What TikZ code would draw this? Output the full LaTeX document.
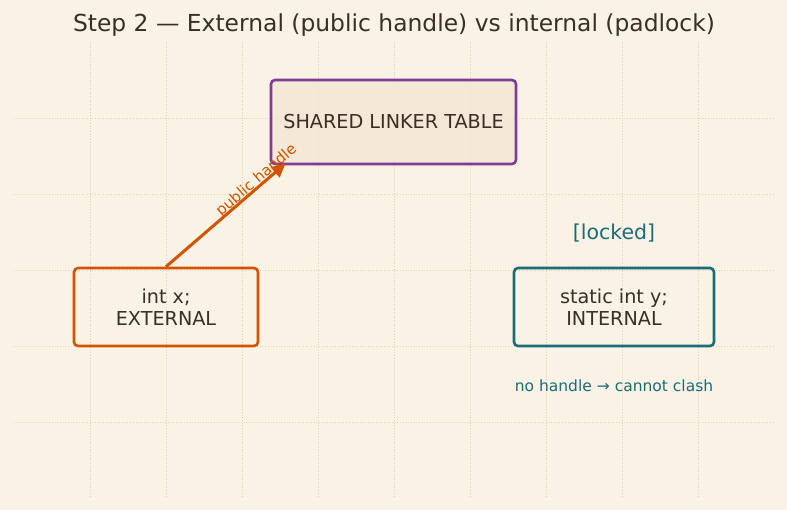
\documentclass[tikz,border=0pt]{standalone}
\usepackage{fontspec}
\setmainfont{DejaVu Sans}
\usetikzlibrary{arrows.meta,calc}
\definecolor{bg}{HTML}{FAF3E5}
\definecolor{gridc}{HTML}{DDD2BE}
\definecolor{ink}{HTML}{3A2E27}
\definecolor{orangec}{HTML}{D35400}
\definecolor{purplec}{HTML}{7D3C98}
\definecolor{tealc}{HTML}{1B6B78}
\definecolor{sharedfill}{HTML}{F3E6D2}
\tikzset{
  box/.style={draw, line width=2.6pt, rounded corners=4pt, align=center, text=ink,
    font=\fontsize{19.2}{22}\selectfont, inner sep=0pt},
  gridline/.style={gridc, line width=0.7pt, dotted},
}
\begin{document}
\begin{tikzpicture}[x=1pt,y=-1pt]
\useasboundingbox (0,0) rectangle (787,510);
\fill[bg] (0,0) rectangle (787,510);
% grid
\foreach \gx in {90,166,...,698} \draw[gridline] (\gx,42) -- (\gx,498);
\foreach \gy in {118,194,...,422} \draw[gridline] (14,\gy) -- (774,\gy);
% title
\node[text=ink, font=\fontsize{23.4}{27}\selectfont] (title) at (394,25) {Step 2 — External (public handle) vs internal (padlock)};
% boxes
\node[box, draw=purplec, fill=sharedfill, fill opacity=0.75, text opacity=1, minimum width=245pt, minimum height=84pt] (sh) at (393.5,122) {SHARED LINKER TABLE};
\node[box, draw=orangec, minimum width=184pt, minimum height=78pt] (ix) at (166,307) {int x;\\EXTERNAL};
\node[box, draw=tealc, minimum width=200pt, minimum height=78pt] (iy) at (614,307) {static int y;\\INTERNAL};
\node[text=tealc, font=\fontsize{20.5}{24}\selectfont] (lock) at (614,233) {[locked]};
\node[text=tealc, font=\fontsize{15.5}{18}\selectfont] (note) at (614,386) {no handle → cannot clash};
% arrow
\coordinate (tip) at ($(sh.south west)+(16,-2)$);
\draw[orangec, line width=3pt, -{Triangle[length=14pt,width=13pt]}] (ix.north) -- (tip)
  node[pos=0.79, sloped, above=-6pt, font=\fontsize{15}{17}\selectfont, text=orangec] (lbl) {public handle};
\end{tikzpicture}
\end{document}
